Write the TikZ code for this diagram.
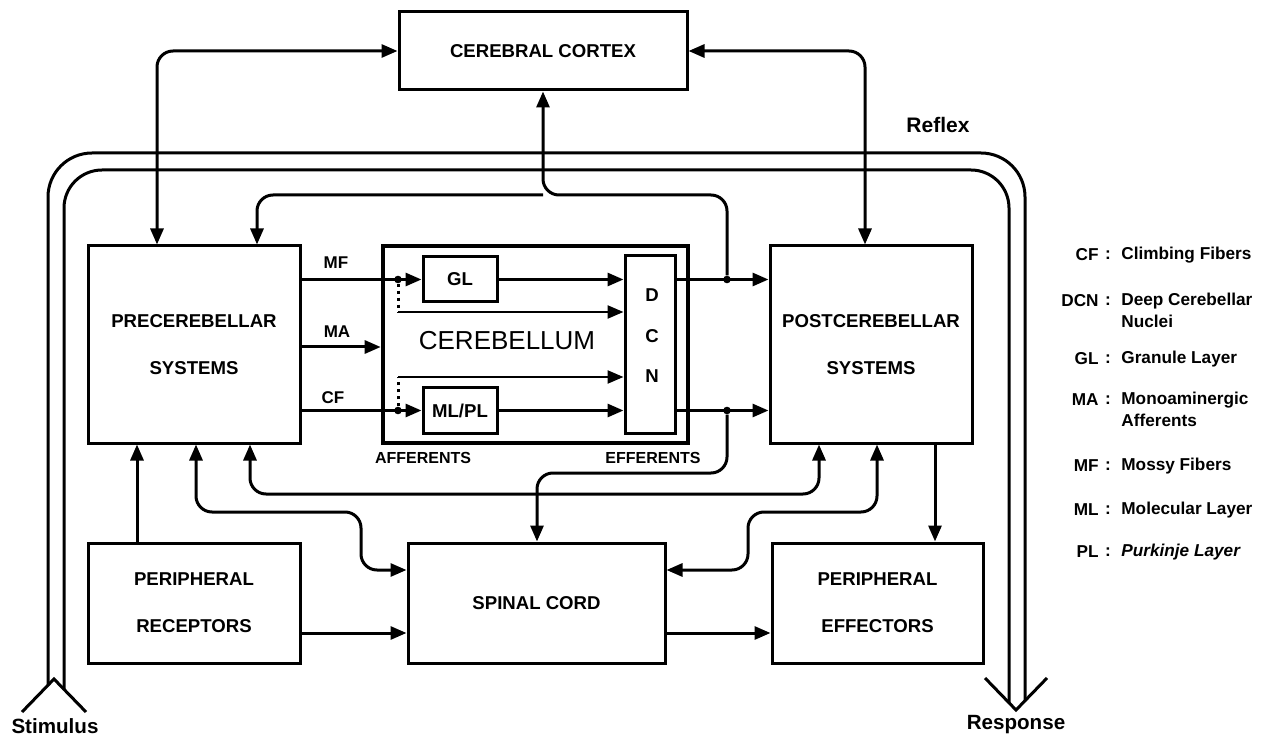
\documentclass[tikz,border=0pt]{standalone}
\usepackage{fontspec}
\setmainfont{Liberation Sans}
\usetikzlibrary{arrows.meta}
\begin{document}
\begin{tikzpicture}[x=0.5pt,y=-0.5pt,
  ln/.style={line width=1.5pt},
  arr/.style={ln,-{Triangle[length=8pt,width=6.5pt]}},
  darr/.style={ln,{Triangle[length=8pt,width=6.5pt]}-{Triangle[length=8pt,width=6.5pt]}},
  rc/.style={rounded corners=8pt},
  box/.style={draw,line width=1.5pt,inner sep=0pt,align=center,
    font=\bfseries\fontsize{9.3}{23.5}\selectfont},
  lbl/.style={inner sep=0pt,font=\bfseries\fontsize{8.5}{10}\selectfont},
  leg/.style={inner sep=0pt,font=\bfseries\fontsize{8.6}{10}\selectfont},
  dot/.style={fill,circle,inner sep=0pt,minimum size=3.8pt}]
\fill[white] (0,0) rectangle (1268,737);
\useasboundingbox (0,0) rectangle (1268,737);

% boxes
\node[box,minimum width=144pt,minimum height=39pt] (cortex) at (543,51) {CEREBRAL CORTEX};
\node[box,minimum width=106pt,minimum height=98.5pt] (pre) at (194,344.5) {PRECEREBELLAR\\SYSTEMS};
\node[box,minimum width=101pt,minimum height=98.5pt] (post) at (871,344.5) {POSTCEREBELLAR\\SYSTEMS};
\node[draw,line width=2.3pt,minimum width=152.5pt,minimum height=98.5pt,inner sep=0pt] (cb) at (535.5,344.5) {};
\node[box,minimum width=37pt,minimum height=22.5pt] (gl) at (460,279.5) {GL};
\node[box,minimum width=37pt,minimum height=22.5pt] (mlpl) at (460,410.5) {ML/PL};
\node[box,minimum width=25pt,minimum height=88.5pt] (dcn) at (650,344.5) {};
\node[box,draw=none] (dD) at (652,295) {D};
\node[box,draw=none] (dC) at (652,336) {C};
\node[box,draw=none] (dN) at (652,376) {N};
\node[box,minimum width=106pt,minimum height=60pt] (rec) at (194,603) {PERIPHERAL\\RECEPTORS};
\node[box,minimum width=128.5pt,minimum height=60pt] (spinal) at (536.5,603) {SPINAL CORD};
\node[box,minimum width=105.5pt,minimum height=60pt] (eff) at (877.5,603) {PERIPHERAL\\EFFECTORS};

% texts
\node[inner sep=0pt,font=\fontsize{13}{15}\selectfont] (cbl) at (507,341) {CEREBELLUM};
\node[lbl] (tMF) at (336,263) {MF};
\node[lbl] (tMA) at (337,332) {MA};
\node[lbl] (tCF) at (333,398) {CF};
\node[lbl,font=\bfseries\fontsize{8}{10}\selectfont] (taff) at (423,458) {AFFERENTS};
\node[lbl,font=\bfseries\fontsize{8}{10}\selectfont] (teff) at (653,458) {EFFERENTS};
\node[inner sep=0pt,font=\bfseries\fontsize{10.5}{12}\selectfont] (treflex) at (938,125) {Reflex};
\node[inner sep=0pt,font=\bfseries\fontsize{10.3}{13}\selectfont] (tstim) at (55,726) {Stimulus};
\node[inner sep=0pt,font=\bfseries\fontsize{10.3}{13}\selectfont] (tresp) at (1016,725) {Response};

% columns / rows
\coordinate (cA) at (137,0);
\coordinate (cB) at (196,0);
\coordinate (cC) at (250,0);
\coordinate (cD) at (157,0);
\coordinate (cE) at (257,0);
\coordinate (cF) at (543,0);
\coordinate (cG) at (727,0);
\coordinate (cH) at (537,0);
\coordinate (cI) at (819,0);
\coordinate (cJ) at (877,0);
\coordinate (cK) at (935,0);
\coordinate (cL) at (865,0);
\coordinate (cM) at (398,0);
\coordinate (cN) at (361,0);
\coordinate (cO) at (748,0);
\coordinate (rMA) at (0,347);
\coordinate (rD1) at (0,312);
\coordinate (rD2) at (0,377);
\coordinate (rTop) at (0,195);
\coordinate (rS) at (0,473);
\coordinate (rP1) at (0,512);
\coordinate (rP2) at (0,494);
\coordinate (rR1) at (0,570);
\coordinate (rR2) at (0,633);

% cerebellum internals
\draw[arr] (pre.east |- gl.west) -- (gl.west);
\node[dot] (j1) at (cM |- gl.west) {};
\draw[arr] (gl.east) -- (dcn.west |- gl.east);
\draw[ln,dotted] (j1) -- (cM |- rD1);
\draw[arr,line width=1.2pt] (cM |- rD1) -- (dcn.west |- rD1);
\draw[arr] (pre.east |- rMA) -- (cb.west |- rMA);
\draw[arr] (pre.east |- mlpl.west) -- (mlpl.west);
\node[dot] (j2) at (cM |- mlpl.west) {};
\draw[ln,dotted] (j2) -- (cM |- rD2);
\draw[arr,line width=1.2pt] (cM |- rD2) -- (dcn.west |- rD2);
\draw[arr] (mlpl.east) -- (dcn.west |- mlpl.east);

% DCN outputs
\draw[arr] (dcn.east |- gl.east) -- (post.west |- gl.east);
\node[dot] (j3) at (cG |- gl.east) {};
\draw[arr] (dcn.east |- mlpl.east) -- (post.west |- mlpl.east);
\node[dot] (j4) at (cG |- mlpl.east) {};
\draw[arr,rc] (j3) -- (cG |- rTop) -- (cF |- rTop) -- (cortex.south);
\draw[arr,rc] (cF |- rTop) -- (cE |- rTop) -- (cE |- pre.north);
\draw[arr,rc] (j4) -- (cG |- rS) -- (cH |- rS) -- (cH |- spinal.north);

% cortex links
\draw[darr,rc] (cortex.west) -| (cD |- pre.north);
\draw[darr,rc] (cortex.east) -| (cL |- post.north);

% lower links
\draw[arr] (cA |- rec.north) -- (cA |- pre.south);
\draw[darr,rc] (cB |- pre.south) -- (cB |- rP1) -- (cN |- rP1) -- (cN |- rR1) -- (spinal.west |- rR1);
\draw[darr,rc] (cC |- pre.south) -- (cC |- rP2) -- (cI |- rP2) -- (cI |- post.south);
\draw[darr,rc] (cJ |- post.south) -- (cJ |- rP1) -- (cO |- rP1) -- (cO |- rR1) -- (spinal.east |- rR1);
\draw[arr] (rec.east |- rR2) -- (spinal.west |- rR2);
\draw[arr] (spinal.east |- rR2) -- (eff.west |- rR2);
\draw[arr] (cK |- post.south) -- (cK |- eff.north);

% reflex
\draw[ln,rounded corners=22pt] (48,685) -- (48,153) -- (1025,153) -- (1025,701);
\draw[ln,rounded corners=19pt] (64,690) -- (64,170) -- (1009,170) -- (1009,703);
\draw[ln] (22,712) -- (54,679) -- (86,712);
\draw[ln] (985,678) -- (1016,710) -- (1047,678);

% legend
\foreach \y/\a/\d [count=\i] in {255/CF/Climbing Fibers, 301/DCN/Deep Cerebellar, 359/GL/Granule Layer, 400/MA/Monoaminergic, 466/MF/Mossy Fibers, 510/ML/Molecular Layer}{
  \node[leg,anchor=east] (la\i) at (1099,\y) {\a};
  \node[leg] (lc\i) at (1108,\y) {:};
  \node[leg,anchor=west] (ld\i) at (1121,\y) {\d};
}
\node[leg,anchor=east] (la7) at (1099,552) {PL};
\node[leg] (lc7) at (1108,552) {:};
\node[leg,anchor=west,font=\bfseries\itshape\fontsize{8.6}{10}\selectfont] (ld7) at (1121,552) {Purkinje Layer};
\node[leg,anchor=west] (ld2b) at (1121,321) {Nuclei};
\node[leg,anchor=west] (ld4b) at (1121,420) {Afferents};
\end{tikzpicture}
\end{document}
